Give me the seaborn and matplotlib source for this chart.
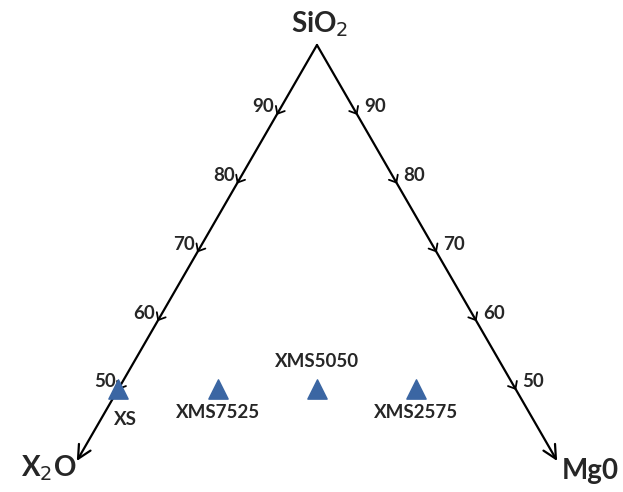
import numpy as np
import pandas as pd
import matplotlib
matplotlib.use('Agg')
import matplotlib.pyplot as plt
import seaborn as sns

# ternary composition (percent): X2O, SiO2, MgO
SAMPLES = ['XS', 'XMS7525', 'XMS5050', 'XMS2575']
X2O = [50, 37.5, 25, 12.5]
SIO2 = [50, 50, 50, 50]
MGO = [0, 12.5, 25, 37.5]
TICKS = [90, 80, 70, 60, 50]
AXIS_END = 39.5  # SiO2 % where the side arrows stop
COLOR = '#3b66a3'

H = np.sqrt(3) / 2


def tern(sio2, mgo):
    s = np.asarray(sio2) / 100
    m = np.asarray(mgo) / 100
    return m + s / 2, s * H


sns.set_style('white')
plt.rcParams['font.family'] = ['Lato', 'DejaVu Sans']

fig = plt.figure(figsize=(6.23, 4.92), dpi=100)
ax = fig.add_axes([0, 0, 1, 1])
ax.set_xlim(0.1008, 0.8854)
ax.set_ylim(0.3030, 0.9227)
ax.set_aspect('equal')
ax.axis('off')

apex = tern(100, 0)
left_end = tern(AXIS_END, 0)
right_end = tern(AXIS_END, 100 - AXIS_END)
for end in (left_end, right_end):
    ax.annotate('', xy=end, xytext=apex,
                arrowprops=dict(arrowstyle='->', color='black', lw=1.6,
                                mutation_scale=24, shrinkA=0, shrinkB=0))

# tick chevrons and labels
L = 0.010
for side in ('left', 'right'):
    for t in TICKS:
        if side == 'left':
            px, py = tern(t, 0)
            d = np.array([-0.5, -H])
            off = (-10, 5)
        else:
            px, py = tern(t, 100 - t)
            d = np.array([0.5, -H])
            off = (13, 5)
        for ang in (np.radians(40), -np.radians(40)):
            c, s_ = np.cos(ang), np.sin(ang)
            r = np.array([c * d[0] - s_ * d[1], s_ * d[0] + c * d[1]])
            ax.plot([px, px - L * r[0]], [py, py - L * r[1]], color='black', lw=1.3)
        ax.annotate(str(t), (px, py), xytext=off, textcoords='offset points',
                    ha='center', va='center', fontsize=13.5, fontweight='bold')

df = pd.DataFrame({'sample': SAMPLES, 'x2o': X2O, 'sio2': SIO2, 'mgo': MGO})
df['x'], df['y'] = tern(df['sio2'], df['mgo'])
sns.scatterplot(data=df, x='x', y='y', marker='^', s=190, color=COLOR,
                edgecolor=COLOR, ax=ax, zorder=5)

label_off = {'XS': (5, -22), 'XMS7525': (0, -17), 'XMS5050': (0, 20), 'XMS2575': (0, -17)}
for _, row in df.iterrows():
    ax.annotate(row['sample'], (row['x'], row['y']), xytext=label_off[row['sample']],
                textcoords='offset points', ha='center', va='center',
                fontsize=13.5, fontweight='bold')

ax.annotate('SiO$_2$', apex, xytext=(2, 15), textcoords='offset points',
            ha='center', va='center', fontsize=20, fontweight='bold')
ax.annotate('X$_2$O', left_end, xytext=(-20, -5), textcoords='offset points',
            ha='center', va='center', fontsize=20, fontweight='bold')
ax.annotate('Mg0', right_end, xytext=(24, -7), textcoords='offset points',
            ha='center', va='center', fontsize=20, fontweight='bold')

fig.savefig('out.png', dpi=100)
